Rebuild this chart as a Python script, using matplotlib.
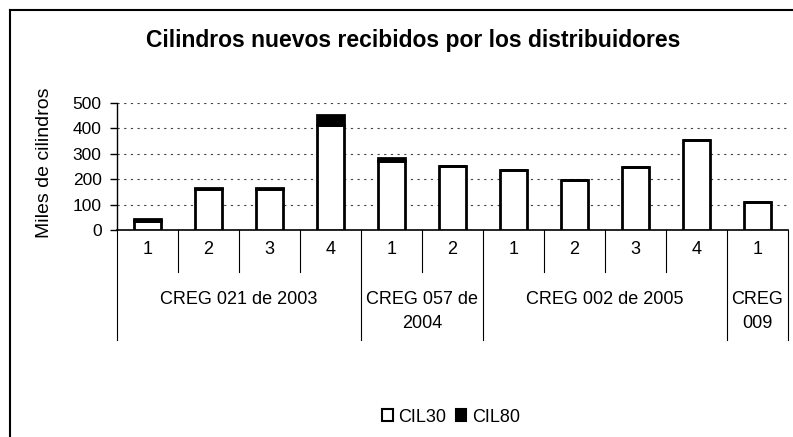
import matplotlib
matplotlib.use("Agg")
import matplotlib.pyplot as plt
import matplotlib.transforms as mtransforms
from matplotlib.lines import Line2D
from matplotlib.patches import Patch

# ---- data ----
groups = ["CREG 021 de 2003", "CREG 057 de\n2004", "CREG 002 de 2005", "CREG\n009"]
group_sizes = [4, 2, 4, 1]
trimestres = ["1", "2", "3", "4", "1", "2", "1", "2", "3", "4", "1"]
cil30 = [35, 160, 160, 413, 270, 253, 236, 197, 247, 354, 111]
cil80 = [10, 4, 4, 40, 15, 0, 0, 0, 0, 0, 0]
y_ticks = [0, 100, 200, 300, 400, 500]

plt.rcParams["font.family"] = ["Liberation Sans", "DejaVu Sans"]

W, H = 793, 437
fig = plt.figure(figsize=(W / 100, H / 100), dpi=100)

def fy(ypix):
    return 1 - ypix / H

# axes placed from pixel positions
left, right, top, bottom = 117, 788, 103, 230
ax = fig.add_axes([left / W, fy(bottom), (right - left) / W, (bottom - top) / H])

n = len(cil30)
x = list(range(n))
ax.bar(x, cil30, width=0.45, color="white", edgecolor="black", linewidth=2.0, zorder=3)
ax.bar(x, cil80, width=0.45, bottom=cil30, color="black", edgecolor="black", linewidth=2.0, zorder=3)

ax.set_xlim(-0.5, n - 0.5)
ax.set_ylim(0, 500)
ax.set_yticks(y_ticks)
ax.set_yticklabels([str(v) for v in y_ticks], fontsize=12.5)
ax.tick_params(axis="y", length=5, width=1, pad=6)
ax.set_xticks([])
for v in y_ticks[1:]:
    ax.axhline(v, color="#444444", linewidth=0.8, linestyle=(0, (2, 4)), zorder=1)

for s in ["top", "right"]:
    ax.spines[s].set_visible(False)
ax.spines["left"].set_linewidth(1.0)
ax.spines["bottom"].set_linewidth(1.2)

fig.text(45 / W, fy(163), "Miles de cilindros", rotation=90, ha="center", va="center",
         fontsize=14)

# ---- two-level category axis ----
tr = mtransforms.blended_transform_factory(ax.transData, fig.transFigure)
for i, t in enumerate(trimestres):
    ax.text(i, fy(249), t, transform=tr, ha="center", va="center", fontsize=13, clip_on=False)

start = 0
bounds = [-0.5]
for g, size in zip(groups, group_sizes):
    center = start + (size - 1) / 2
    ax.text(center, fy(291), g, transform=tr, ha="center", va="top", fontsize=13,
            linespacing=1.55, clip_on=False)
    for k in range(1, size):
        ax.add_line(Line2D([start + k - 0.5] * 2, [fy(bottom), fy(272)], transform=tr,
                           color="black", linewidth=0.8, clip_on=False))
    start += size
    bounds.append(start - 0.5)
for b in bounds:
    ax.add_line(Line2D([b, b], [fy(bottom), fy(340)], transform=tr,
                       color="black", linewidth=0.8, clip_on=False))

# ---- title, legend, border ----
fig.text(413 / W, fy(40), "Cilindros nuevos recibidos por los distribuidores",
         ha="center", va="center", fontsize=16.5, fontweight="bold")

handles = [Patch(facecolor="white", edgecolor="black", linewidth=1.5, label="CIL30"),
           Patch(facecolor="black", edgecolor="black", linewidth=1.5, label="CIL80")]
fig.legend(handles=handles, loc="center", bbox_to_anchor=(451 / W, fy(417)), ncol=2,
           frameon=False, fontsize=13, handlelength=0.6, handleheight=0.6,
           handletextpad=0.3, columnspacing=0.5)

fig.add_artist(Line2D([10 / W, 1], [fy(10), fy(10)], transform=fig.transFigure,
                      color="black", linewidth=1.5))
fig.add_artist(Line2D([10 / W, 10 / W], [fy(10), 0], transform=fig.transFigure,
                      color="black", linewidth=1.5))

fig.savefig("out.png", dpi=100)
